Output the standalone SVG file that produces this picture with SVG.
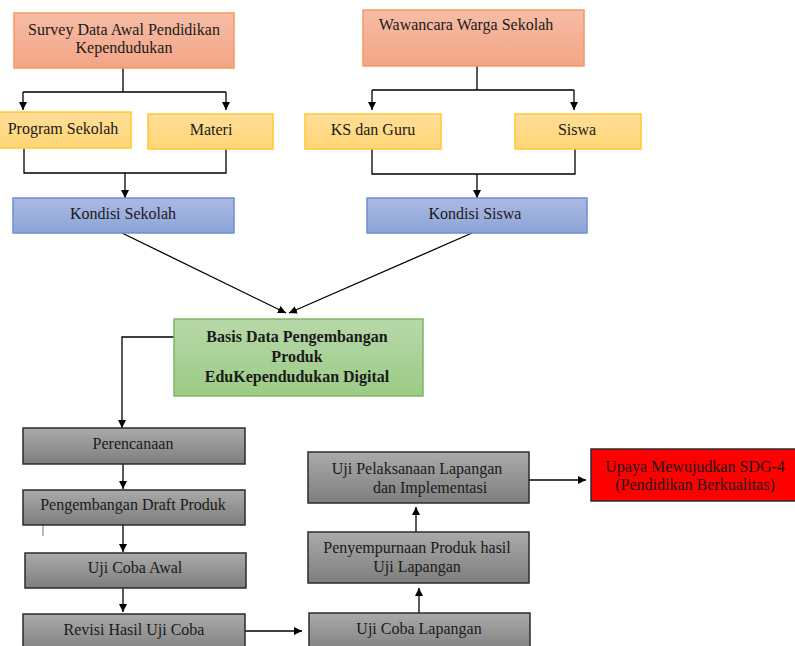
<svg xmlns="http://www.w3.org/2000/svg" width="795" height="646" viewBox="0 0 795 646">
<defs>
<linearGradient id="gOr" x1="0" y1="0" x2="0" y2="1"><stop offset="0" stop-color="#F6BCA6"/><stop offset="1" stop-color="#F3A585"/></linearGradient>
<linearGradient id="gYe" x1="0" y1="0" x2="0" y2="1"><stop offset="0" stop-color="#FFDE99"/><stop offset="1" stop-color="#FFD575"/></linearGradient>
<linearGradient id="gBl" x1="0" y1="0" x2="0" y2="1"><stop offset="0" stop-color="#AAB9E1"/><stop offset="1" stop-color="#8DA4D9"/></linearGradient>
<linearGradient id="gGr" x1="0" y1="0" x2="0" y2="1"><stop offset="0" stop-color="#B7D8A9"/><stop offset="1" stop-color="#9BCB85"/></linearGradient>
<linearGradient id="gGy" x1="0" y1="0" x2="0" y2="1"><stop offset="0" stop-color="#AAAAAA"/><stop offset="1" stop-color="#7E7E7E"/></linearGradient>
<marker id="ah" viewBox="0 0 10 10" refX="10" refY="5" markerWidth="8" markerHeight="8" markerUnits="userSpaceOnUse" orient="auto"><path d="M0,0 L10,5 L0,10 z" fill="#000"/></marker>
</defs>
<style>
text{font-family:"Liberation Serif","Times New Roman",serif;font-size:16px;fill:#1a1a1a;text-anchor:middle}
.b{font-weight:bold}
.or{fill:url(#gOr);stroke:#F59A5E;stroke-width:1.5}
.ye{fill:url(#gYe);stroke:#FFC830;stroke-width:1.5}
.bl{fill:url(#gBl);stroke:#6E8FD2;stroke-width:1.5}
.gr{fill:url(#gGr);stroke:#7FB566;stroke-width:1.5}
.gy{fill:url(#gGy);stroke:#2b2b2b;stroke-width:1.5}
.rd{fill:#FF0000;stroke:#2b2b2b;stroke-width:1.5}
.c{fill:none;stroke:#000;stroke-width:1.3}
.a{fill:none;stroke:#000;stroke-width:1.3;marker-end:url(#ah)}
</style>
<rect width="795" height="646" fill="#fff"/>
<g id="connectors">
<path class="c" d="M123,68 V92 M23,92 H226"/>
<path class="a" d="M23,92 V110"/>
<path class="a" d="M226,92 V110"/>
<path class="c" d="M24,149 V173 H226 V149"/>
<path class="a" d="M125,173 V198"/>
<path class="c" d="M477,66 V90 M372,90 H574"/>
<path class="a" d="M372,90 V110"/>
<path class="a" d="M574,90 V110"/>
<path class="c" d="M372,149 V174 H575 V149"/>
<path class="a" d="M477,174 V198"/>
<path class="a" d="M122,233 L286,313"/>
<path class="a" d="M472,233 L289,313"/>
<path class="a" d="M174,337 H122 V428"/>
<path class="a" d="M123,464 V489"/>
<path class="a" d="M123,525 V552"/>
<path class="a" d="M123,588 V612"/>
<path class="a" d="M245,631 H302"/>
<path class="a" d="M419,613 V588"/>
<path class="a" d="M416,532 V507"/>
<path class="a" d="M527,480 H586"/>
<path d="M43,513 V536" stroke="#777" stroke-width="1" fill="none"/>
</g>
<g id="survey"><rect class="or" x="14" y="13" width="220" height="55"/><text x="124" y="35">Survey Data Awal Pendidikan</text><text x="124" y="53">Kependudukan</text></g>
<g id="wawancara"><rect class="or" x="363" y="10" width="221" height="56"/><text x="466" y="30">Wawancara Warga Sekolah</text></g>
<g id="program"><rect class="ye" x="-1" y="112" width="132" height="36"/><text x="63" y="134">Program Sekolah</text></g>
<g id="materi"><rect class="ye" x="148" y="114" width="125" height="35"/><text x="211" y="135">Materi</text></g>
<g id="ksguru"><rect class="ye" x="305" y="114" width="136" height="35"/><text x="373" y="135">KS dan Guru</text></g>
<g id="siswa"><rect class="ye" x="515" y="114" width="126" height="35"/><text x="577" y="135">Siswa</text></g>
<g id="kondisi-sekolah"><rect class="bl" x="13" y="198" width="221" height="35"/><text x="123" y="219">Kondisi Sekolah</text></g>
<g id="kondisi-siswa"><rect class="bl" x="367" y="198" width="220" height="35"/><text x="475" y="219">Kondisi Siswa</text></g>
<g id="basis"><rect class="gr" x="174" y="319" width="249" height="77"/><text class="b" x="297" y="342">Basis Data Pengembangan</text><text class="b" x="297" y="362">Produk</text><text class="b" x="297" y="382">EduKependudukan Digital</text></g>
<g id="perencanaan"><rect class="gy" x="23" y="428" width="222" height="36"/><text x="133" y="449">Perencanaan</text></g>
<g id="draft"><rect class="gy" x="23" y="490" width="222" height="35"/><text x="133" y="510">Pengembangan Draft Produk</text></g>
<g id="ujicoba-awal"><rect class="gy" x="25" y="553" width="221" height="35"/><text x="135" y="573">Uji Coba Awal</text></g>
<g id="revisi"><rect class="gy" x="23" y="614" width="222" height="40"/><text x="134" y="635">Revisi Hasil Uji Coba</text></g>
<g id="ujicoba-lapangan"><rect class="gy" x="309" y="613" width="221" height="40"/><text x="419" y="634">Uji Coba Lapangan</text></g>
<g id="penyempurnaan"><rect class="gy" x="308" y="532" width="221" height="51"/><text x="417" y="553">Penyempurnaan Produk hasil</text><text x="417" y="572">Uji Lapangan</text></g>
<g id="pelaksanaan"><rect class="gy" x="308" y="452" width="221" height="51"/><text x="417" y="474">Uji Pelaksanaan Lapangan</text><text x="430" y="493">dan Implementasi</text></g>
<g id="sdg"><rect class="rd" x="591" y="449" width="206" height="52"/><text x="695" y="472">Upaya Mewujudkan SDG-4</text><text x="695" y="490">(Pendidikan Berkualitas)</text></g>
</svg>
